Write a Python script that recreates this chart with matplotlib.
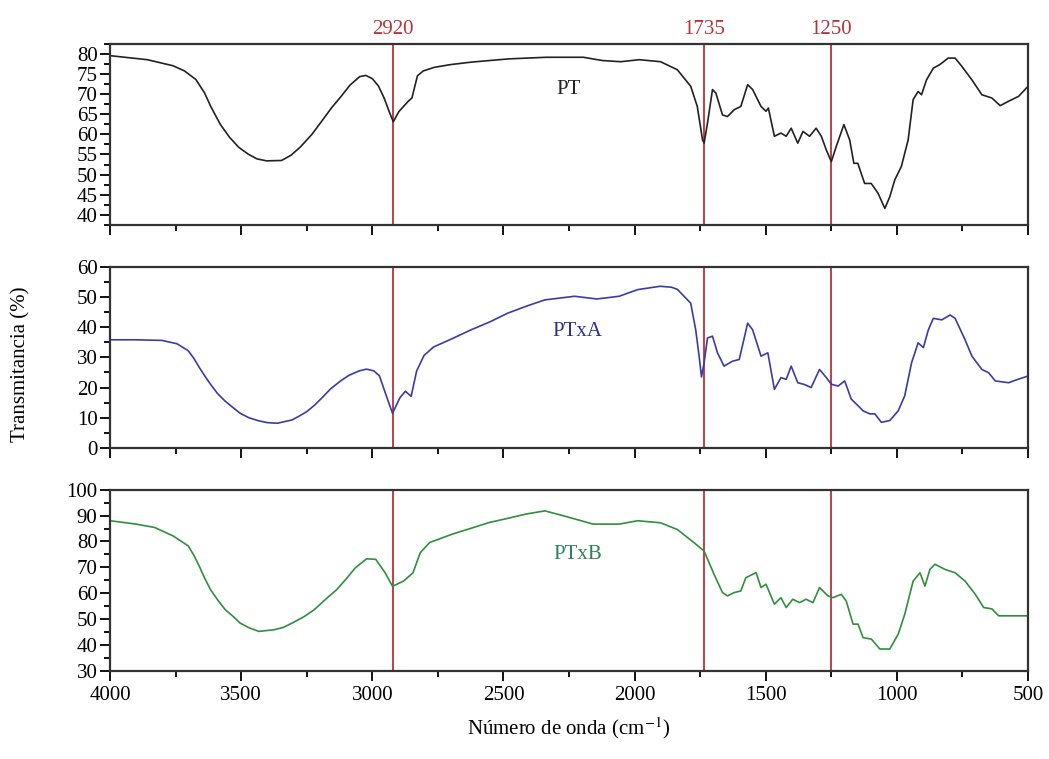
import matplotlib
matplotlib.use('Agg')
import matplotlib.pyplot as plt
from matplotlib.ticker import MultipleLocator

plt.rcParams['font.family'] = ['Liberation Serif', 'DejaVu Serif']
plt.rcParams['mathtext.fontset'] = 'stix'

# PT spectrum
pt_wn = [4000, 3858, 3760, 3716, 3673, 3640, 3616, 3580, 3545, 3510, 3474, 3440,
         3403, 3346, 3310, 3275, 3230, 3190, 3155, 3119, 3085, 3048, 3025, 3000,
         2977, 2955, 2935, 2920, 2899, 2863, 2849, 2828, 2806, 2764, 2700, 2622,
         2480, 2337, 2195, 2124, 2053, 1982, 1901, 1837, 1786, 1761, 1741, 1735,
         1722, 1703, 1690, 1665, 1646, 1620, 1595, 1569, 1550, 1518, 1499, 1490,
         1467, 1442, 1422, 1403, 1378, 1358, 1333, 1308, 1288, 1269, 1250, 1231,
         1202, 1180, 1164, 1149, 1123, 1098, 1072, 1046, 1027, 1008, 983, 957,
         938, 919, 906, 887, 861, 836, 804, 778, 753, 714, 676, 638, 606, 574,
         536, 500]
pt_t = [79.5, 78.5, 77.0, 75.7, 73.6, 70.3, 66.9, 62.5, 59.3, 56.8, 55.1, 53.9,
        53.4, 53.5, 54.8, 56.8, 60.0, 63.5, 66.6, 69.4, 72.2, 74.3, 74.6, 73.8,
        72.0, 69.0, 65.5, 63.1, 65.6, 68.2, 69.0, 74.5, 75.7, 76.6, 77.3, 77.9,
        78.7, 79.1, 79.1, 78.3, 78.0, 78.5, 78.0, 76.0, 71.9, 66.9, 58.6, 57.8,
        62.8, 71.1, 70.2, 64.8, 64.4, 66.1, 66.9, 72.3, 71.1, 66.9, 65.7, 66.5,
        59.5, 60.3, 59.5, 61.5, 57.8, 60.7, 59.5, 61.5, 59.5, 56.1, 53.2, 57.0,
        62.4, 58.6, 52.8, 52.8, 47.8, 47.8, 45.4, 41.6, 44.5, 48.7, 52.0, 58.6,
        68.6, 70.6, 69.8, 73.5, 76.4, 77.3, 78.9, 78.9, 76.9, 73.5, 69.8, 69.0,
        67.1, 68.2, 69.4, 71.9]

# PTxA spectrum
pta_wn = [4000, 3901, 3802, 3745, 3702, 3680, 3660, 3640, 3617, 3590, 3561, 3530,
          3504, 3470, 3433, 3400, 3362, 3306, 3280, 3249, 3220, 3192, 3160, 3121,
          3090, 3051, 3022, 2994, 2973, 2944, 2923, 2895, 2874, 2852, 2831, 2803,
          2767, 2700, 2626, 2550, 2484, 2410, 2342, 2229, 2144, 2059, 1988, 1903,
          1860, 1837, 1786, 1767, 1754, 1745, 1735, 1722, 1703, 1684, 1659, 1627,
          1601, 1569, 1550, 1518, 1492, 1467, 1442, 1422, 1403, 1378, 1352, 1327,
          1295, 1269, 1250, 1224, 1199, 1174, 1148, 1129, 1103, 1084, 1059, 1027,
          995, 970, 944, 919, 899, 880, 861, 829, 797, 778, 740, 714, 676, 650,
          625, 574, 536, 500]
pta_t = [35.8, 35.8, 35.6, 34.5, 32.2, 29.6, 26.7, 24.0, 21.1, 18.0, 15.5, 13.3,
         11.5, 10.0, 9.0, 8.4, 8.2, 9.3, 10.5, 12.1, 14.2, 16.6, 19.5, 22.2,
         24.0, 25.5, 26.1, 25.5, 23.9, 16.6, 11.5, 16.6, 18.8, 17.1, 25.5, 30.6,
         33.4, 36.0, 39.0, 41.8, 44.6, 47.0, 49.0, 50.2, 49.3, 50.2, 52.4, 53.5,
         53.2, 52.5, 47.9, 39.1, 30.4, 23.5, 28.2, 36.4, 37.0, 31.5, 27.1, 28.7,
         29.3, 41.3, 39.1, 30.4, 31.5, 19.4, 23.3, 22.7, 27.1, 21.6, 21.0, 20.0,
         26.0, 23.3, 21.1, 20.5, 22.2, 16.2, 14.0, 12.3, 11.3, 11.3, 8.5, 9.1,
         12.3, 17.3, 28.2, 34.8, 33.2, 39.1, 42.9, 42.4, 44.0, 42.9, 35.8, 30.4,
         26.0, 24.9, 22.2, 21.6, 22.8, 23.8]

# PTxB spectrum
ptb_wn = [4000, 3901, 3830, 3759, 3702, 3680, 3660, 3640, 3617, 3590, 3561, 3530,
          3504, 3470, 3433, 3376, 3340, 3306, 3260, 3221, 3180, 3136, 3100, 3065,
          3022, 2987, 2951, 2923, 2881, 2845, 2817, 2781, 2696, 2620, 2555, 2480,
          2413, 2342, 2271, 2158, 2059, 1988, 1901, 1837, 1773, 1735, 1697, 1665,
          1646, 1620, 1595, 1576, 1537, 1518, 1499, 1467, 1442, 1422, 1397, 1371,
          1346, 1320, 1295, 1263, 1244, 1212, 1193, 1167, 1148, 1129, 1097, 1065,
          1027, 995, 970, 938, 912, 893, 874, 855, 816, 778, 740, 701, 669, 638,
          612, 561, 500]
ptb_t = [88.0, 86.7, 85.4, 82.1, 78.3, 74.6, 70.5, 66.0, 61.4, 57.5, 53.7, 51.0,
         48.5, 46.7, 45.3, 45.9, 46.8, 48.5, 51.0, 53.7, 57.5, 61.4, 65.5, 69.8,
         73.3, 73.1, 67.9, 62.7, 64.7, 67.9, 75.7, 79.6, 82.8, 85.2, 87.3, 89.0,
         90.6, 91.8, 89.9, 86.7, 86.7, 88.0, 87.2, 84.6, 79.5, 76.3, 67.3, 60.3,
         59.0, 60.3, 60.9, 66.0, 68.0, 62.2, 63.5, 55.8, 58.3, 54.5, 57.7, 56.4,
         57.7, 56.4, 62.2, 59.0, 58.3, 59.6, 57.0, 48.1, 48.1, 42.9, 42.3, 38.5,
         38.5, 44.2, 51.9, 64.7, 67.9, 62.8, 69.2, 71.2, 69.2, 67.9, 64.7, 59.6,
         54.5, 54.0, 51.3, 51.3, 51.3]

peaks = [2920, 1735, 1250]
names = ['PT', 'PTxA', 'PTxB']
colors = ['#222222', '#3b3ba6', '#2f8f3f']
text_colors = ['#222222', '#2e2e96', '#2e8060']
ylims = [(37.5, 82.5), (0, 60), (30, 100)]
yticks_major = [5, 10, 10]
yticks_minor = [2.5, 5, 5]
label_pos = [(2250, 71), (2220, 38.5), (2215, 75)]
red = '#b8323c'

fig = plt.figure(figsize=(10.49, 7.59), dpi=100)
bottoms = [0.7036, 0.4097, 0.1159]
data = [(pt_wn, pt_t), (pta_wn, pta_t), (ptb_wn, ptb_t)]

for i in range(3):
    ax = fig.add_axes([0.1049, bottoms[i], 0.8751, 0.2390])
    wn, t = data[i]
    for p in peaks:
        ax.axvline(p, color=red, lw=1.3, zorder=1)
    ax.plot(wn, t, color=colors[i], lw=1.2, zorder=2)
    ax.set_xlim(4000, 500)
    ax.set_ylim(*ylims[i])
    ax.xaxis.set_major_locator(MultipleLocator(500))
    ax.xaxis.set_minor_locator(MultipleLocator(250))
    ax.yaxis.set_major_locator(MultipleLocator(yticks_major[i]))
    ax.yaxis.set_minor_locator(MultipleLocator(yticks_minor[i]))
    ax.tick_params(which='both', direction='out', top=False, right=False,
                   labelsize=15, width=1.3)
    ax.tick_params(which='major', length=7)
    ax.tick_params(which='minor', length=4)
    ax.tick_params(axis='y', pad=2)
    for s in ax.spines.values():
        s.set_linewidth(1.6)
        s.set_color('#333333')
    ax.text(label_pos[i][0], label_pos[i][1], names[i], color=text_colors[i],
            fontsize=15, ha='center', va='center')
    if i < 2:
        ax.tick_params(axis='x', labelbottom=False)
    else:
        ax.set_xlabel('Número de onda (cm$^{-1}$)', fontsize=15, labelpad=8)
    if i == 0:
        for p in peaks:
            ax.text(p, ylims[0][1] + 1.2, str(p), color=red, fontsize=15,
                    ha='center', va='bottom')

fig.text(0.02, 0.52, 'Transmitancia (%)', rotation=90, fontsize=15,
         ha='center', va='center')

plt.savefig('out.png', dpi=100)
